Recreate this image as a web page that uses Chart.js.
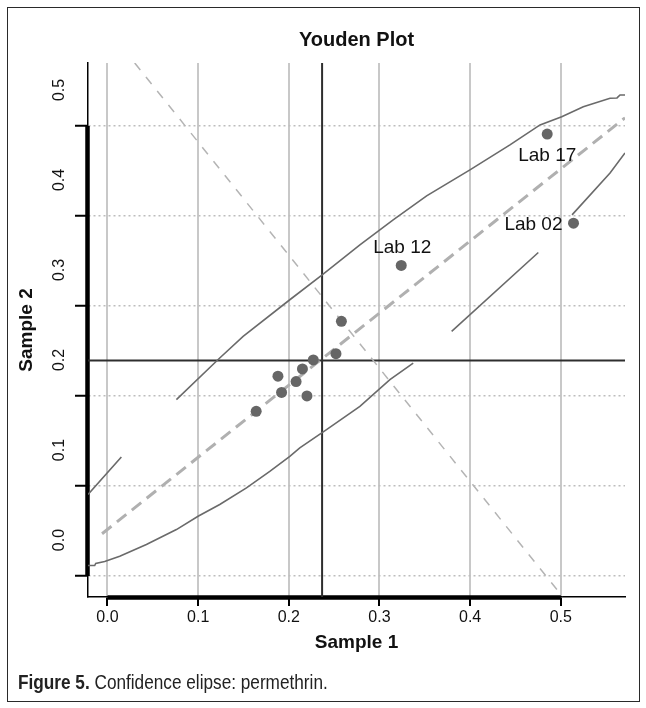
<!DOCTYPE html>
<html>
<head>
<meta charset="utf-8">
<script src="https://cdn.jsdelivr.net/npm/chart.js@4.4.1/dist/chart.umd.min.js"></script>
<style>
  html, body { margin: 0; padding: 0; background: #fff; }
  body { width: 646px; height: 708px; position: relative; overflow: hidden; }
  #wrap { position: absolute; left: 0; top: 0; width: 646px; height: 708px; }
  #frame { position: absolute; left: 7px; top: 7px; width: 633px; height: 695px;
           border: 1.5px solid #2a2a2a; box-sizing: border-box; pointer-events: none; }
  #caption { position: absolute; left: 18px; top: 671px; white-space: nowrap; line-height: 23px;
             font-family: "Liberation Sans", Arial, sans-serif; font-size: 20px; color: #222;
             transform: scaleX(0.86); transform-origin: left center; }
  #caption b { font-weight: bold; }
</style>
</head>
<body>
<div id="wrap"><canvas id="c" width="646" height="708"></canvas></div>
<div id="frame"></div>
<div id="caption"><b>Figure 5.</b> Confidence elipse: permethrin.</div>
<script>
// ---- data ----
const sample1 = [0.164, 0.188, 0.192, 0.208, 0.215, 0.220, 0.227, 0.252, 0.258, 0.324, 0.485, 0.514];
const sample2 = [0.183, 0.222, 0.204, 0.216, 0.230, 0.200, 0.240, 0.247, 0.283, 0.345, 0.491, 0.392];
const labNames = ['', '', '', '', '', '', '', '', '', 'Lab 12', 'Lab 17', 'Lab 02'];

const tickValues = [0.0, 0.1, 0.2, 0.3, 0.4, 0.5];
const tickLabels = ['0.0', '0.1', '0.2', '0.3', '0.4', '0.5'];
const xRange = [-0.0215, 0.5708];
const yRange = [-0.0233, 0.5699];

const centerX = 0.2367;   // vertical reference line
const centerY = 0.2395;   // horizontal reference line

const diagX = [-0.006, 0.5708];
const diagY = [0.047, 0.509];
const antiX = [0.030, 0.502];
const antiY = [0.570, -0.023];

// ellipse (null = gap in the drawn curve)
const upperArcX = [-0.0215, 0.0153, null, 0.0760, 0.1238, 0.1496, 0.2011, 0.2368, 0.2784, 0.3151, 0.3520, 0.3998, 0.4439, 0.4771, 0.5010, 0.5248, 0.5543, 0.5620, 0.5653, 0.5708];
const upperArcY = [0.0905, 0.1323, null, 0.1959, 0.2422, 0.2661, 0.3069, 0.3346, 0.3679, 0.3957, 0.4223, 0.4512, 0.4790, 0.5011, 0.5103, 0.5214, 0.5307, 0.5311, 0.5344, 0.5344];
const lowerArcX = [-0.0215, -0.0141, -0.0130, -0.0031, 0.0135, 0.0429, 0.0760, 0.0999, 0.1238, 0.1533, 0.1790, 0.2011, 0.2121, 0.2416, 0.2784, 0.3115, 0.3372, null, 0.3796, 0.4752, null, 0.5124, 0.5543, 0.5708];
const lowerArcY = [0.0117, 0.0117, 0.0139, 0.0161, 0.0220, 0.0350, 0.0516, 0.0664, 0.0794, 0.0979, 0.1163, 0.1330, 0.1423, 0.1626, 0.1885, 0.2181, 0.2366, null, 0.2717, 0.3594, null, 0.4012, 0.4478, 0.4700];

// ---- helpers ----
const toXY = (xs, ys) => xs.map((x, i) => ({ x: x, y: ys[i] }));
const FONT = '"Liberation Sans", Arial, Helvetica, sans-serif';

const labelPlacement = { 'Lab 12': 'above', 'Lab 17': 'below', 'Lab 02': 'left' };

const decorPlugin = {
  id: 'decor',
  beforeDatasetsDraw(chart) {
    const { ctx, chartArea, scales: { x, y } } = chart;
    ctx.save();
    ctx.strokeStyle = '#000';
    ctx.lineWidth = 4.5;
    ctx.lineCap = 'butt';
    ctx.beginPath();
    ctx.moveTo(chartArea.left - 0.5, y.getPixelForValue(tickValues[0]));
    ctx.lineTo(chartArea.left - 0.5, y.getPixelForValue(tickValues[tickValues.length - 1]));
    ctx.moveTo(x.getPixelForValue(tickValues[0]), chartArea.bottom + 0.5);
    ctx.lineTo(x.getPixelForValue(tickValues[tickValues.length - 1]), chartArea.bottom + 0.5);
    ctx.stroke();
    ctx.restore();
  },
  afterDatasetsDraw(chart) {
    const { ctx, scales: { x, y } } = chart;
    ctx.save();
    ctx.font = '19px ' + FONT;
    ctx.fillStyle = '#111';
    labNames.forEach((name, i) => {
      if (!name) return;
      const px = x.getPixelForValue(sample1[i]);
      const py = y.getPixelForValue(sample2[i]);
      const where = labelPlacement[name];
      ctx.textBaseline = 'middle';
      if (where === 'above') { ctx.textAlign = 'center'; ctx.fillText(name, px + 1, py - 18); }
      else if (where === 'below') { ctx.textAlign = 'center'; ctx.fillText(name, px, py + 22); }
      else { ctx.textAlign = 'right'; ctx.fillText(name, px - 11, py + 2); }
    });
    ctx.restore();
  }
};

new Chart(document.getElementById('c'), {
  type: 'scatter',
  data: {
    datasets: [
      { label: 'Labs', data: toXY(sample1, sample2), order: 0,
        pointStyle: 'circle', pointRadius: 5.5, pointHoverRadius: 5.5,
        backgroundColor: '#666666', borderColor: '#666666', borderWidth: 0 },
      { label: 'upper', data: toXY(upperArcX, upperArcY), order: 1, showLine: true,
        pointRadius: 0, borderColor: '#6a6a6a', borderWidth: 1.6, spanGaps: false, tension: 0 },
      { label: 'lower', data: toXY(lowerArcX, lowerArcY), order: 1, showLine: true,
        pointRadius: 0, borderColor: '#6a6a6a', borderWidth: 1.6, spanGaps: false, tension: 0 },
      { label: 'diag', data: toXY(diagX, diagY), order: 2, showLine: true,
        pointRadius: 0, borderColor: '#b0b0b0', borderWidth: 3, borderDash: [12, 7] },
      { label: 'anti', data: toXY(antiX, antiY), order: 2, showLine: true,
        pointRadius: 0, borderColor: '#b4b4b4', borderWidth: 1.5, borderDash: [9, 9] },
      { label: 'vline', data: toXY([centerX, centerX], yRange), order: 3, showLine: true,
        pointRadius: 0, borderColor: '#2e2e2e', borderWidth: 2 },
      { label: 'hline', data: toXY(xRange, [centerY, centerY]), order: 3, showLine: true,
        pointRadius: 0, borderColor: '#2e2e2e', borderWidth: 2 }
    ]
  },
  options: {
    responsive: false,
    animation: false,
    devicePixelRatio: 1,
    layout: { padding: { left: 0, right: 21, top: 0, bottom: 51 } },
    plugins: {
      legend: { display: false },
      tooltip: { enabled: false },
      title: {
        display: true, text: 'Youden Plot', color: '#111', fullSize: false,
        font: { family: FONT, size: 20, weight: 'bold' },
        padding: { top: 28, bottom: 11 }
      }
    },
    scales: {
      x: {
        type: 'linear', min: xRange[0], max: xRange[1],
        afterBuildTicks: s => { s.ticks = tickValues.map(v => ({ value: v })); },
        afterFit: s => { s.height = 60; },
        ticks: { callback: (v, i) => tickLabels[i], color: '#111', padding: 2,
                 font: { family: FONT, size: 16 }, maxRotation: 0, autoSkip: false },
        grid: { color: '#c8c8c8', lineWidth: 2, drawTicks: true, tickLength: 9,
                tickColor: '#000', tickWidth: 2 },
        border: { display: true, color: '#000', width: 1.5 },
        title: { display: true, text: 'Sample 1', color: '#111',
                 font: { family: FONT, size: 19, weight: 'bold' }, padding: { top: 0, bottom: 3 } }
      },
      y: {
        type: 'linear', min: yRange[0], max: yRange[1],
        afterBuildTicks: s => { s.ticks = tickValues.map(v => ({ value: v })); },
        afterFit: s => { s.width = 88; },
        ticks: { callback: (v, i) => tickLabels[i], color: '#111', padding: 4,
                 font: { family: FONT, size: 16 }, minRotation: 90, maxRotation: 90,
                 crossAlign: 'center', labelOffset: -36, autoSkip: false },
        grid: { color: '#bdbdbd', lineWidth: 1.5, drawTicks: true, tickLength: 13,
                tickColor: '#000', tickWidth: 2 },
        border: { display: true, color: '#000', width: 1.5, dash: [2, 3] },
        title: { display: true, text: 'Sample 2', color: '#111',
                 font: { family: FONT, size: 19, weight: 'bold' }, padding: { top: 15, bottom: 0 } }
      }
    }
  },
  plugins: [decorPlugin]
});
</script>
</body>
</html>
